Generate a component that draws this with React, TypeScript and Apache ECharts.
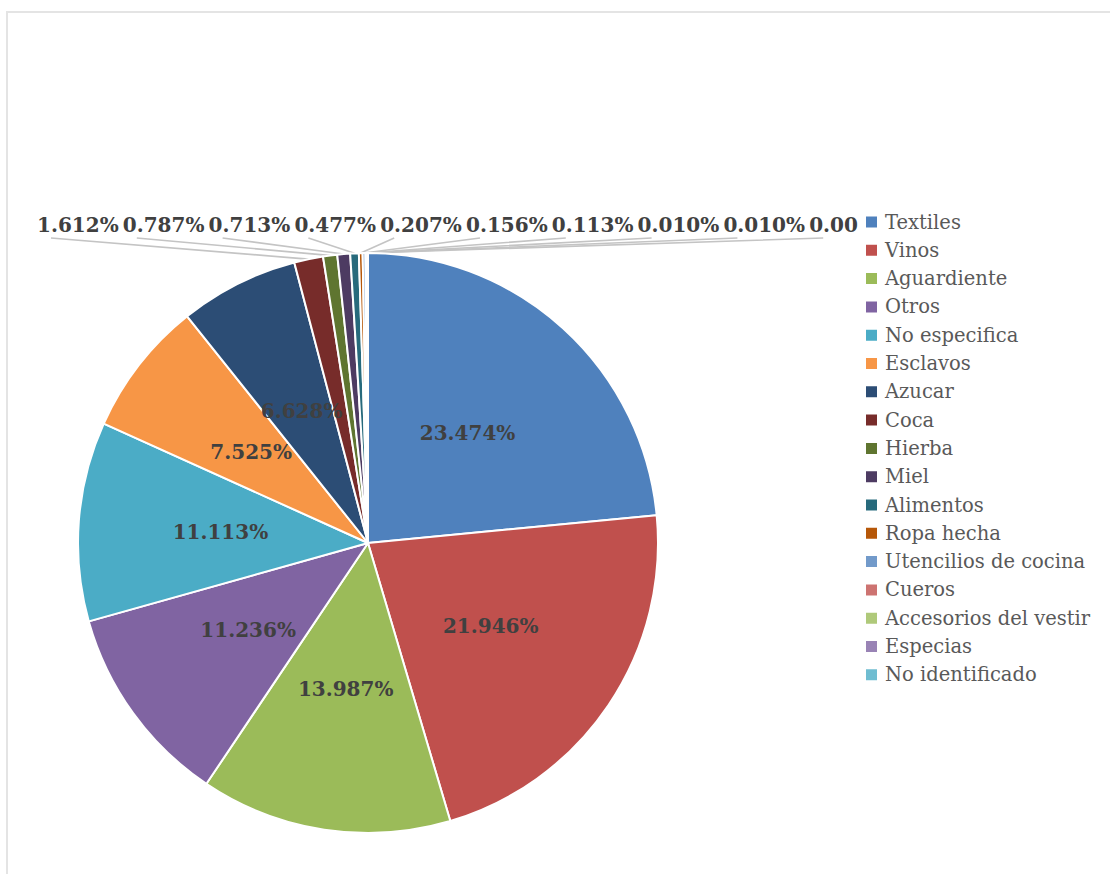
import React, { useEffect, useRef } from "react";
import * as echarts from "echarts";

const categories = [
  "Textiles", "Vinos", "Aguardiente", "Otros", "No especifica", "Esclavos", "Azucar",
  "Coca", "Hierba", "Miel", "Alimentos", "Ropa hecha", "Utencilios de cocina",
  "Cueros", "Accesorios del vestir", "Especias", "No identificado",
];
const values = [
  23.474, 21.946, 13.987, 11.236, 11.113, 7.525, 6.628,
  1.612, 0.787, 0.713, 0.477, 0.207, 0.156, 0.113, 0.01, 0.01, 0.006,
];
const colors = [
  "#4F81BD", "#C0504D", "#9BBB59", "#8064A2", "#4BACC6", "#F79646", "#2C4D75",
  "#772C2A", "#5F7530", "#4D3B62", "#276A7C", "#B65708", "#729ACA",
  "#CD7371", "#AFC97A", "#9983B5", "#6FBDD1",
];
const firstOutside = 7;

export default function App() {
  const ref = useRef<HTMLDivElement>(null);
  useEffect(() => {
    const chart = echarts.init(ref.current!, null, { renderer: "svg" });
    const labelFont = {
      fontFamily: "DejaVu Serif",
      fontWeight: "bold" as const,
      fontSize: 20,
      color: "#404040",
    };
    chart.setOption({
      animation: false,
      graphic: [
        {
          type: "rect",
          shape: { x: 7, y: 12, width: 1200, height: 900 },
          style: { fill: "none", stroke: "#e4e4e4", lineWidth: 2 },
          silent: true,
        },
      ],
      legend: {
        orient: "vertical",
        left: 858,
        top: 210,
        itemWidth: 13,
        itemHeight: 13,
        itemGap: 8.3,
        icon: "rect",
        backgroundColor: "#ffffff",
        padding: [2, 0, 2, 6],
        textStyle: {
          fontFamily: "DejaVu Serif",
          fontSize: 19.5,
          lineHeight: 20,
          color: "#595959",
          padding: [0, 0, 0, 2],
        },
        data: categories,
      },
      series: [
        {
          type: "pie",
          center: [368, 543],
          radius: [0, 290],
          startAngle: 90,
          clockwise: true,
          avoidLabelOverlap: false,
          itemStyle: { borderColor: "#ffffff", borderWidth: 2 },
          data: categories.map((name, i) => ({
            name,
            value: values[i],
            itemStyle: { color: colors[i] },
            label:
              i < firstOutside
                ? { show: true, position: "inside", ...labelFont }
                : i === categories.length - 1
                ? {
                    show: true,
                    position: "outside",
                    ...labelFont,
                    width: 58,
                    overflow: "truncate",
                    ellipsis: "",
                  }
                : { show: true, position: "outside", ...labelFont },
            labelLine:
              i < firstOutside
                ? { show: false }
                : { show: true, lineStyle: { color: "#c4c4c4", width: 1.6 } },
          })),
          label: {
            formatter: (p: any) => p.value.toFixed(3) + "%",
          },
          labelLayout: (params: any) => {
            const i = params.dataIndex;
            if (i < firstOutside) return {};
            const k = i - firstOutside;
            const lx = 37 + k * 85.8;
            const ly = 225;
            const pts = params.labelLinePoints;
            const start = pts && pts[0] ? pts[0] : [360, 252];
            const end = [lx + 14, 238];
            const mid = [
              start[0] + (end[0] - start[0]) * 0.05,
              start[1] + (end[1] - start[1]) * 0.05,
            ];
            return {
              x: lx,
              y: ly,
              align: "left",
              verticalAlign: "middle",
              labelLinePoints: [start, mid, end],
            };
          },
        },
      ],
    });
    return () => chart.dispose();
  }, []);
  return (
    <div
      ref={ref}
      style={{ position: "absolute", left: 0, top: 0, width: 1110, height: 874 }}
    />
  );
}
